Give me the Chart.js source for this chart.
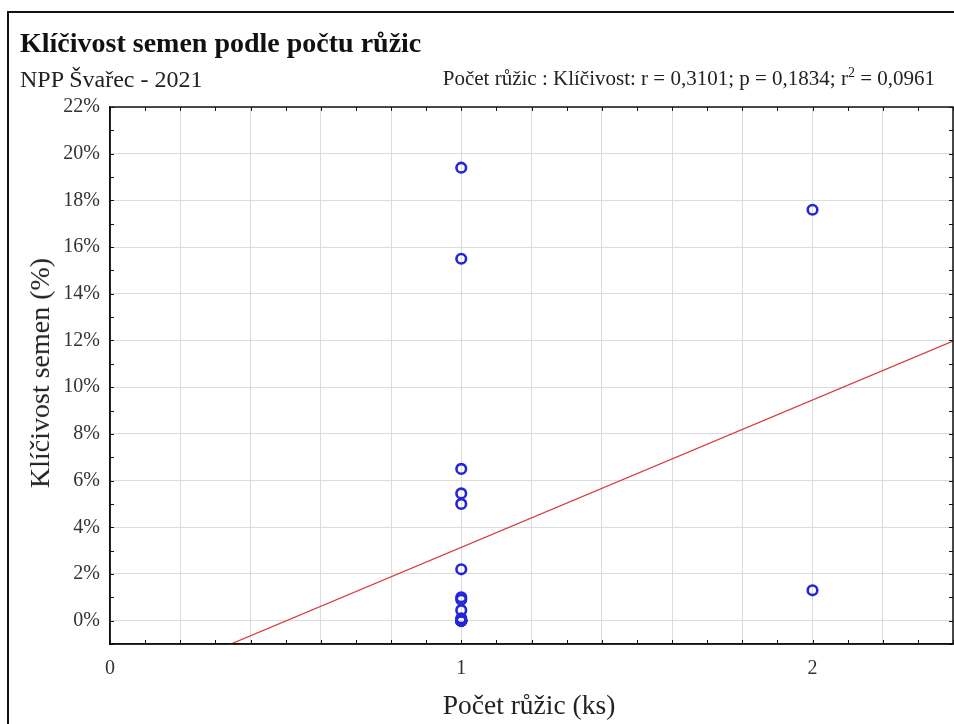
<!DOCTYPE html>
<html>
<head>
<meta charset="utf-8">
<script src="https://cdn.jsdelivr.net/npm/chart.js@4"></script>
<style>
  html, body { margin: 0; padding: 0; background: #fff; }
  body { width: 954px; height: 724px; position: relative; overflow: hidden; font-family: "Liberation Serif", "Times New Roman", serif; color: #111; }
  #frame { position: absolute; left: 7px; top: 11px; width: 980px; height: 760px; border: 2px solid #111; box-sizing: border-box; }
  #wrap { position: absolute; left: 0; top: 0; width: 954px; height: 724px; overflow: hidden; }
  .t { position: absolute; white-space: nowrap; line-height: 1; }
  #title { left: 20px; top: 29px; font-size: 28px; font-weight: bold; }
  #subtitle { left: 20px; top: 67px; font-size: 24px; color: #222; }
  #stats { right: 19px; top: 68px; font-size: 21px; color: #222; }
  #xtitle { left: 529px; top: 691px; font-size: 27.5px; color: #222; transform: translateX(-50%); }
  #ytitle { left: 40px; top: 373px; font-size: 28px; color: #222; transform: translate(-50%, -50%) rotate(-90deg); }
</style>
</head>
<body>
<div id="frame"></div>
<div id="wrap"><canvas id="c" width="966" height="724"></canvas></div>
<div class="t" id="title">Klíčivost semen podle počtu růžic</div>
<div class="t" id="subtitle">NPP Švařec - 2021</div>
<div class="t" id="stats">Počet růžic : Klíčivost: r = 0,3101; p = 0,1834; r<sup style="font-size:14px;vertical-align:8px;line-height:0">2</sup> = 0,0961</div>
<div class="t" id="xtitle">Počet růžic (ks)</div>
<div class="t" id="ytitle">Klíčivost semen (%)</div>
<script>
// Data: number of rosettes (x) and germination % (y)
const rosettes = [1,1,1,1,1,1,1,1,1,1,1,1,1,1,1,1,1,1,2,2];
const germination = [19.4,15.5,6.5,5.45,5.0,2.2,1.0,0.9,0.45,0.1,0,0,0,0,0,0,0,0,17.6,1.3];
const xTickValues = [0,0.2,0.4,0.6,0.8,1,1.2,1.4,1.6,1.8,2,2.2,2.4];
const xTickLabels = {0:'0',1:'1',2:'2'};
const yTickValues = [0,2,4,6,8,10,12,14,16,18,20,22];
const xMinorTicks = [0.1,0.3,0.5,0.7,0.9,1.1,1.3,1.5,1.7,1.9,2.1,2.3];
const yMinorTicks = [-1,1,3,5,7,9,11,13,15,17,19,21];
const xRange = [0, 2.4];
const yRange = [-1, 22];

// Least-squares fit computed from the data
const n = rosettes.length;
const mx = rosettes.reduce((a,b)=>a+b,0)/n;
const my = germination.reduce((a,b)=>a+b,0)/n;
let sxy = 0, sxx = 0;
for (let i=0;i<n;i++){ sxy += (rosettes[i]-mx)*(germination[i]-my); sxx += (rosettes[i]-mx)**2; }
const slope = sxy/sxx, intercept = my - slope*mx;
const fitLine = xRange.map(x => ({x, y: intercept + slope*x}));

const points = rosettes.map((x,i)=>({x, y: germination[i]}));

const frameTicks = {
  id: 'frameTicks',
  afterDatasetsDraw(chart) {
    const {ctx, chartArea: a, scales: {x, y}} = chart;
    ctx.save();
    ctx.strokeStyle = '#111';
    ctx.lineWidth = 1;
    ctx.beginPath();
    const L = 4;
    const allX = xTickValues.concat(xMinorTicks);
    allX.forEach(v => {
      const px = Math.round(x.getPixelForValue(v)) + 0.5;
      ctx.moveTo(px, a.bottom); ctx.lineTo(px, a.bottom - L);
      ctx.moveTo(px, a.top); ctx.lineTo(px, a.top + L);
    });
    const allY = yTickValues.concat(yMinorTicks);
    allY.forEach(v => {
      const py = Math.round(y.getPixelForValue(v)) + 0.5;
      ctx.moveTo(a.left, py); ctx.lineTo(a.left + L, py);
      ctx.moveTo(a.right, py); ctx.lineTo(a.right - L, py);
    });
    ctx.stroke();
    ctx.lineWidth = 1.5;
    ctx.strokeRect(a.left, a.top, a.right - a.left, a.bottom - a.top);
    ctx.restore();
  }
};

new Chart(document.getElementById('c'), {
  data: {
    datasets: [
      { type: 'line', data: fitLine, borderColor: '#d9383a', borderWidth: 1.2, pointRadius: 0, fill: false, order: 2 },
      { type: 'scatter', data: points, borderColor: '#2525dc', backgroundColor: 'rgba(255,255,255,0)', borderWidth: 2.6, pointRadius: 4.8, pointHoverRadius: 4.8, order: 1 }
    ]
  },
  options: {
    responsive: false,
    animation: false,
    events: [],
    layout: { padding: { top: 107, right: 2, left: 0, bottom: 0 } },
    plugins: { legend: { display: false }, tooltip: { enabled: false }, title: { display: false } },
    scales: {
      x: {
        type: 'linear', min: xRange[0], max: xRange[1],
        afterBuildTicks: s => { s.ticks = xTickValues.map(v => ({value: v})); },
        afterFit: s => { s.height = 80; },
        grid: { color: '#dcdcdc', drawTicks: false, lineWidth: 1 },
        border: { display: true, color: '#111', width: 1.5 },
        ticks: { padding: 13, color: '#333', font: { family: 'Liberation Serif', size: 20 },
          maxRotation: 0, autoSkip: false,
          callback: v => (xTickLabels[v] !== undefined ? xTickLabels[v] : '') }
      },
      y: {
        type: 'linear', min: yRange[0], max: yRange[1],
        afterBuildTicks: s => { s.ticks = yTickValues.map(v => ({value: v})); },
        afterFit: s => { s.width = 110; },
        grid: { color: '#dcdcdc', drawTicks: false, lineWidth: 1 },
        border: { display: true, color: '#111', width: 1.5 },
        ticks: { padding: 10, color: '#333', font: { family: 'Liberation Serif', size: 20 }, autoSkip: false,
          callback: v => v + '%' }
      }
    }
  },
  plugins: [frameTicks]
});
</script>
</body>
</html>
